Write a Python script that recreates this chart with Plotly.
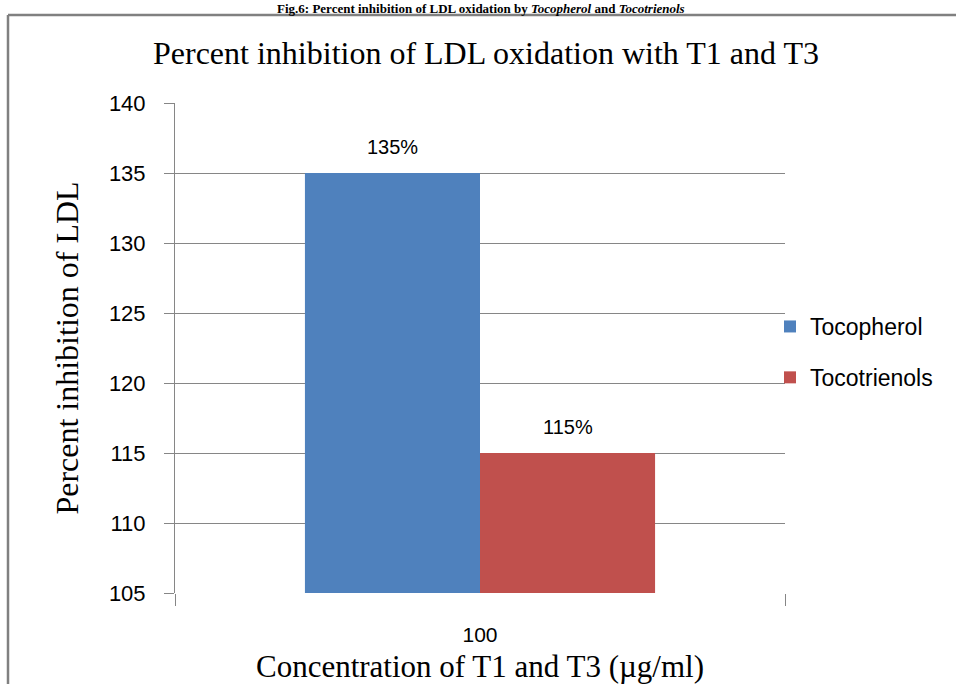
import plotly.graph_objects as go

categories = ["100"]
series_names = ["Tocopherol", "Tocotrienols"]
tocopherol = [135]
tocotrienols = [115]
labels_toc = ["135%"]
labels_t3 = ["115%"]
y_ticks = [105, 110, 115, 120, 125, 130, 135, 140]

W, H = 956, 684
L, R, T, B = 175, 171, 103, 91
pw, ph = W - L - R, H - T - B

def px(x):
    return (x - L) / pw

def py(y):
    return (H - B - y) / ph

sans = "Liberation Sans"
serif = "Liberation Serif"

fig = go.Figure()
fig.add_trace(go.Bar(x=categories, y=tocopherol, name=series_names[0], legendgroup="a",
                     marker=dict(color="#4F81BD", line=dict(width=0))))
fig.add_trace(go.Bar(x=categories, y=tocotrienols, name=series_names[1], legendgroup="b",
                     marker=dict(color="#C0504D", line=dict(width=0))))

annotations = [
    dict(text="<b>Fig.6: Percent inhibition of LDL oxidation by <i>Tocopherol</i> and <i>Tocotrienols</i></b>",
         xref="paper", yref="paper", x=px(481), y=py(-1), xanchor="center", yanchor="top",
         showarrow=False, font=dict(family=serif, size=13, color="#000")),
]
for vals, labs, shift in [(tocopherol, labels_toc, -88), (tocotrienols, labels_t3, 88)]:
    for i, (v, t) in enumerate(zip(vals, labs)):
        annotations.append(dict(x=i, y=v, xref="x", yref="y", text=t, showarrow=False,
                                xshift=shift, yshift=26, yanchor="middle",
                                font=dict(family=sans, size=20, color="#000")))

fig.update_layout(
    width=W, height=H,
    margin=dict(l=L, r=R, t=T, b=B),
    paper_bgcolor="white", plot_bgcolor="white",
    barmode="group", bargap=0.426, bargroupgap=0,
    showlegend=True,
    legend=dict(x=px(770), y=py(305), xanchor="left", yanchor="top",
                font=dict(family=sans, size=23, color="#000"),
                traceorder="grouped", tracegroupgap=18, itemwidth=30,
                bgcolor="rgba(0,0,0,0)"),
    title=dict(text="Percent inhibition of LDL oxidation with T1 and T3",
               x=486 / W, xanchor="center", y=1 - 53 / H, yanchor="middle",
               font=dict(family=serif, size=32, color="#000")),
    xaxis=dict(type="category", range=[-0.5, 0.5], autorange=False, automargin=False,
               showline=False, showgrid=False,
               ticks="outside", tickson="boundaries", ticklen=12, tickcolor="#868686",
               ticklabelstandoff=27, tickangle=0,
               tickfont=dict(family=sans, size=21, color="#000"),
               title=dict(text="Concentration of T1 and T3 (\u00b5g/ml)", standoff=10,
                          font=dict(family=serif, size=31, color="#000"))),
    yaxis=dict(range=[105, 140], tickvals=y_ticks, showgrid=True, gridcolor="#868686",
               gridwidth=1, showline=True, linecolor="#868686", linewidth=1, automargin=False,
               ticks="outside", ticklen=10, tickcolor="#868686", ticklabelstandoff=14,
               tickfont=dict(family=sans, size=22, color="#000"), zeroline=False,
               title=dict(text="Percent inhibition of LDL", standoff=20,
                          font=dict(family=serif, size=32, color="#000"))),
    shapes=[
        dict(type="line", xref="paper", yref="paper", x0=px(8), x1=px(960), y0=py(15), y1=py(15),
             line=dict(color="#808080", width=2.5)),
        dict(type="line", xref="paper", yref="paper", x0=px(8), x1=px(8), y0=py(15), y1=py(690),
             line=dict(color="#808080", width=2.5)),
    ],
    annotations=annotations,
)

fig.write_html("out.html")
